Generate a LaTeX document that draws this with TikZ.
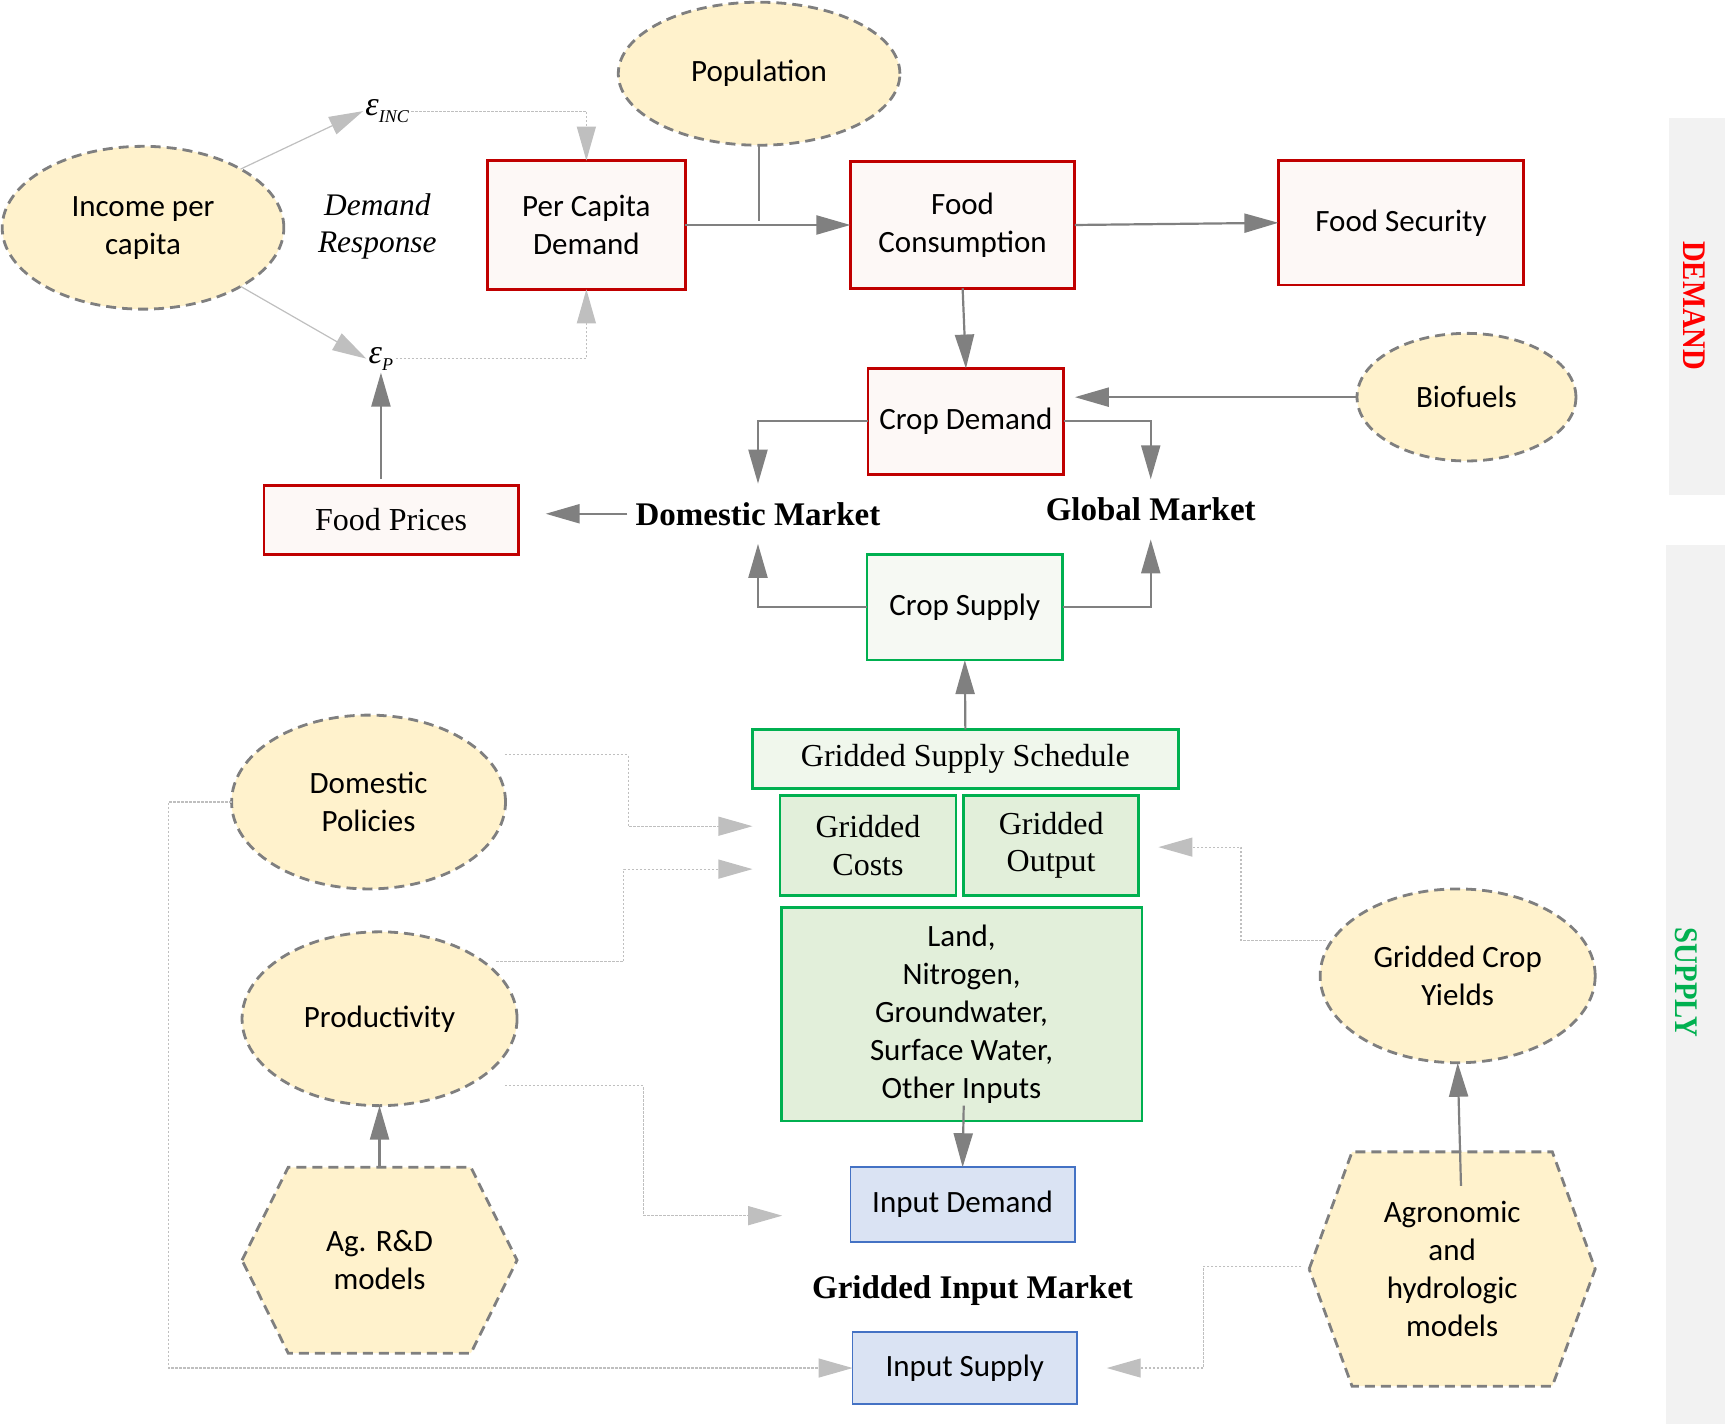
\documentclass[tikz,border=0pt]{standalone}
\usepackage{fontspec}
\setmainfont{Liberation Serif}
\newfontfamily\calib{Carlito}
\usetikzlibrary{arrows.meta,shapes.geometric,backgrounds}
\definecolor{redb}{HTML}{C00000}
\definecolor{redf}{HTML}{FDF8F6}
\definecolor{grnb}{HTML}{00B050}
\definecolor{grnfa}{HTML}{F6F9F3}
\definecolor{grnfb}{HTML}{F0F7EC}
\definecolor{grnfc}{HTML}{E2EFDA}
\definecolor{blub}{HTML}{4472C4}
\definecolor{bluf}{HTML}{DAE3F3}
\definecolor{ellf}{HTML}{FFF2CC}
\definecolor{elld}{HTML}{7F7F7F}
\definecolor{arrd}{HTML}{808080}
\definecolor{arrl}{HTML}{BFBFBF}
\definecolor{stripc}{HTML}{F2F2F2}
\definecolor{supg}{HTML}{00B050}
\begin{document}
\begin{tikzpicture}[x=0.55pt,y=-0.55pt,
  box/.style={draw, rectangle, inner sep=0pt, outer sep=0pt, align=center,
    font=\calib\fontsize{15.5}{19}\selectfont},
  serif/.style={font=\rmfamily\fontsize{16}{18.7}\selectfont},
  redbox/.style={box, draw=redb, fill=redf, line width=1.4pt},
  grnbox/.style={box, draw=grnb, line width=1.4pt},
  blubox/.style={box, draw=blub, fill=bluf, line width=0.8pt},
  ell/.style={ellipse, draw=elld, fill=ellf, line width=1.4pt, dash pattern=on 5pt off 3pt,
    inner sep=0pt, outer sep=0pt, align=center, font=\calib\fontsize{15.5}{19}\selectfont},
  hexn/.style={rectangle, inner sep=0pt, outer sep=0pt, align=center, font=\calib\fontsize{15.5}{19}\selectfont},
  hexd/.style={draw=elld, fill=ellf, line width=1.4pt, dash pattern=on 5pt off 3pt},
  mkt/.style={font=\rmfamily\bfseries\fontsize{16.5}{19}\selectfont, inner xsep=4pt, inner ysep=0pt},
  dconn/.style={draw=arrd, line width=1.1pt, -{Triangle[length=17pt,width=9.5pt]}},
  lconn/.style={draw=arrl, line width=0.6pt, dash pattern=on 1.2pt off 0.8pt, -{Triangle[length=17pt,width=9.5pt]}},
  lsolid/.style={draw=arrl, line width=0.6pt, -{Triangle[length=17pt,width=9.5pt]}},
  side/.style={font=\rmfamily\bfseries\fontsize{16.5}{19}\selectfont, rotate=-90, inner sep=0pt}
]
\path[use as bounding box] (0,0) rectangle (1568,1294);
% side strips
\fill[stripc] (1517,107) rectangle (1568,450);
\fill[stripc] (1514,495) rectangle (1568,1294);
\node[side, text=red] (demandlbl) at (1540,278) {\scalebox{0.87}[1]{DEMAND}};
\node[side, text=supg] (supplylbl) at (1533,893) {\scalebox{0.87}[1]{SUPPLY}};

% ellipses
\node[ell, minimum width=140.8pt, minimum height=71.5pt] (pop) at (690,67) {Population};
\node[ell, minimum width=140.8pt, minimum height=81.4pt] (income) at (130,207) {Income per\\capita};
\node[ell, minimum width=109.45pt, minimum height=63.8pt] (bio) at (1333,361) {Biofuels};
\node[ell, minimum width=136.95pt, minimum height=86.9pt] (dompol) at (335,729) {Domestic\\Policies};
\node[ell, minimum width=137.5pt, minimum height=86.9pt] (prod) at (345,926) {Productivity};
\node[ell, minimum width=137.5pt, minimum height=86.9pt] (gcy) at (1325,887) {Gridded Crop\\Yields};

% hexagons
\node[hexn, minimum width=137.5pt, minimum height=92.95pt] (agrd) at (345,1145.5) {Ag. R\&D\\models};
\node[hexn, minimum width=143pt, minimum height=117.15pt] (agron) at (1320,1153.5) {Agronomic\\and\\hydrologic\\models};
\begin{pgfonlayer}{background}
\draw[hexd] (agrd.west) -- ([xshift=23.1pt]agrd.north west) -- ([xshift=-23.1pt]agrd.north east)
  -- (agrd.east) -- ([xshift=-23.1pt]agrd.south east) -- ([xshift=23.1pt]agrd.south west) -- cycle;
\draw[hexd] (agron.west) -- ([xshift=21.45pt]agron.north west) -- ([xshift=-21.45pt]agron.north east)
  -- (agron.east) -- ([xshift=-21.45pt]agron.south east) -- ([xshift=21.45pt]agron.south west) -- cycle;
\end{pgfonlayer}

% boxes
\node[redbox, minimum width=99pt, minimum height=64.35pt] (percap) at (533,204.5) {Per Capita\\Demand};
\node[redbox, minimum width=112.2pt, minimum height=63.25pt] (foodcons) at (875,204.5) {Food\\Consumption};
\node[redbox, minimum width=122.65pt, minimum height=62.15pt] (foodsec) at (1273.5,202.5) {Food Security};
\node[redbox, minimum width=97.9pt, minimum height=52.8pt] (cropdem) at (878,383) {Crop Demand};
\node[redbox, serif, minimum width=127.05pt, minimum height=34.65pt] (fprices) at (355.5,472.5) {Food Prices};
\node[grnbox, fill=grnfa, minimum width=97.9pt, minimum height=52.8pt] (cropsup) at (877,552) {Crop Supply};
\node[grnbox, serif, fill=grnfb, minimum width=212.85pt, minimum height=29.7pt] (gss) at (877.5,690) {Gridded Supply Schedule};
\node[grnbox, serif, fill=grnfc, minimum width=88pt, minimum height=50.05pt] (costs) at (789,768.5) {Gridded\\Costs};
\node[grnbox, serif, fill=grnfc, minimum width=87.45pt, minimum height=50.05pt] (output) at (955.5,768.5) {Gridded\\Output};
\node[grnbox, fill=grnfc, minimum width=180.4pt, minimum height=106.7pt] (land) at (874,922) {Land,\\Nitrogen,\\Groundwater,\\Surface Water,\\Other Inputs};
\node[blubox, minimum width=112.2pt, minimum height=37.4pt] (indem) at (875,1095) {Input Demand};
\node[blubox, minimum width=112.2pt, minimum height=35.75pt] (insup) at (877,1243.5) {Input Supply};

% labels
\node[mkt, minimum height=29.7pt] (dommkt) at (689,467) {Domestic Market};
\node[mkt, minimum height=29.7pt] (globmkt) at (1046,463) {Global Market};
\node[mkt] (gim) at (884,1173) {Gridded Input Market};
\node[font=\rmfamily\itshape\fontsize{15.7}{18.2}\selectfont, align=center, inner sep=0pt] (dresp) at (343,206) {Demand\\Response};
\node[anchor=west, inner sep=1pt, font=\rmfamily\itshape\fontsize{17}{18}\selectfont] (einc) at (330,101)
  {ε\raisebox{-0.45ex}{\fontsize{9}{10}\selectfont INC}};
\node[anchor=west, inner sep=1pt, font=\rmfamily\itshape\fontsize{17}{18}\selectfont] (ep) at (333,326)
  {ε\raisebox{-0.45ex}{\fontsize{9}{10}\selectfont P}};

% demand side connectors
\draw[lsolid] (income.31) -- (einc.west);
\draw[lsolid] (income.-31) -- (ep.west);
\draw[lconn] (einc.east) -| (percap.north);
\draw[lconn] (ep.east) -| (percap.south);
\draw[dconn, shorten <=3.3pt] (fprices.north -| ep.south) -- (ep.south);
\draw[dconn] (percap.east) -- (foodcons.west);
\draw[draw=arrd, line width=1.1pt] (pop.south) -- ([yshift=2pt]pop.south |- percap.east);
\draw[dconn] (foodcons.east) -- (foodsec.west);
\draw[dconn] (foodcons.south) -- (cropdem.north);
\draw[dconn, shorten >=5.5pt] (bio.west) -- (bio.west -| cropdem.east);
\draw[dconn] (cropdem.west) -| (dommkt.north);
\draw[dconn] (cropdem.east) -| (globmkt.north);
\draw[dconn, shorten >=13.75pt] (dommkt.west) -- (dommkt.west -| fprices.east);
\draw[dconn] (cropsup.west) -| (dommkt.south);
\draw[dconn] (cropsup.east) -| (globmkt.south);
\draw[dconn] (gss.north) -- (cropsup.south);

% supply side connectors
\draw[lconn] ([shift={(124,-43)}]dompol.center) -| ([shift={(-138,-17.5)}]costs.west) -- ([shift={(-25,-17.5)}]costs.west);
\draw[lconn] ([shift={(106,-52)}]prod.center) -| ([shift={(-142,21.5)}]costs.west) -- ([shift={(-25,21.5)}]costs.west);
\draw[lconn] ([shift={(114,61)}]prod.center) -| ([shift={(-188,10)}]indem.west) -- ([shift={(-62,10)}]indem.west);
\draw[lconn] (dompol.west) -| ([shift={(-622,0)}]insup.west) -- (insup.west);
\draw[lconn] ([shift={(-120,-32)}]gcy.center) -| ([shift={(93,1.5)}]output.east) -- ([shift={(18,1.5)}]output.east);
\draw[lconn] ([shift={(-7,-2.5)}]agron.west) -| ([shift={(115,0)}]insup.east) -- ([shift={(27,0)}]insup.east);
\draw[dconn] ([shift={(8,31)}]agron.north) -- (gcy.south);
\draw[dconn] (agrd.north) -- (prod.south);
\draw[dconn] ([shift={(2,-14)}]land.south) -- (indem.north);
\end{tikzpicture}
\end{document}
